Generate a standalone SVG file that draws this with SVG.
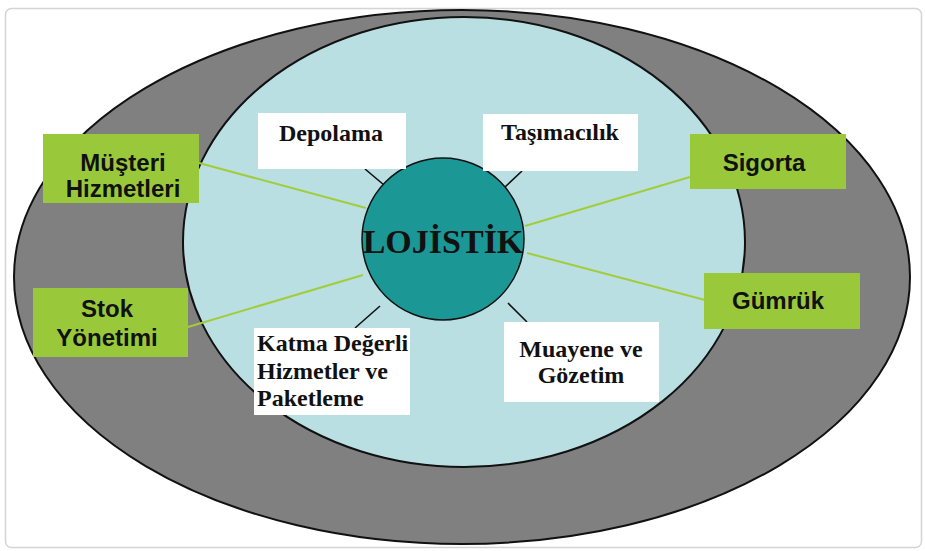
<svg xmlns="http://www.w3.org/2000/svg" width="925" height="551" viewBox="0 0 925 551">
<style>
.wbox{fill:#ffffff;stroke:none}
.gbox{fill:#99c93b;stroke:none}
.st{font-family:"Liberation Serif","Times New Roman",serif;font-weight:bold;font-size:24px;fill:#111}
.ss{font-family:"Liberation Sans",Arial,sans-serif;font-weight:bold;font-size:24px;fill:#111}
.gl{stroke:#a2cc3a;stroke-width:2;fill:none}
.bl{stroke:#111;stroke-width:1.6;fill:none}
</style>
<rect x="0" y="0" width="925" height="551" fill="#ffffff"/>
<rect x="5.5" y="8.5" width="916" height="539" rx="6" fill="#ffffff" stroke="#d4d4d4" stroke-width="1.5"/>
<g id="outer">
<ellipse cx="462" cy="277" rx="448" ry="267" fill="#808080" stroke="#111" stroke-width="2"/>
</g>
<g id="inner">
<ellipse cx="464" cy="242" rx="281" ry="225" fill="#b9dfe3" stroke="#111" stroke-width="2"/>
</g>
<g id="connectors">
<line class="gl" x1="199" y1="163" x2="366" y2="208"/>
<line class="gl" x1="690" y1="177" x2="525" y2="226"/>
<line class="gl" x1="188" y1="327" x2="363" y2="275"/>
<line class="gl" x1="527" y1="253" x2="705" y2="300"/>
<line class="bl" x1="365" y1="169" x2="384" y2="185"/>
<line class="bl" x1="522" y1="171" x2="505" y2="187"/>
<line class="bl" x1="380" y1="306" x2="355" y2="328"/>
<line class="bl" x1="508" y1="303" x2="527" y2="322"/>
</g>
<g id="lojistik">
<circle cx="443" cy="239" r="81" fill="#1b9895" stroke="#111" stroke-width="1.5"/>
<text x="443" y="253" text-anchor="middle" font-family="'Liberation Serif','Times New Roman',serif" font-weight="bold" font-size="34" fill="#111">LOJİSTİK</text>
</g>
<g id="depolama">
<rect class="wbox" x="258" y="113" width="148" height="56"/>
<text class="st" x="331" y="141" text-anchor="middle">Depolama</text>
</g>
<g id="tasimacilik">
<rect class="wbox" x="483" y="114" width="155" height="57"/>
<text class="st" x="560" y="140" text-anchor="middle">Taşımacılık</text>
</g>
<g id="katma">
<rect class="wbox" x="254" y="328" width="156" height="87"/>
<text class="st" x="257" y="351">Katma Değerli</text>
<text class="st" x="257" y="379">Hizmetler ve</text>
<text class="st" x="257" y="406">Paketleme</text>
</g>
<g id="muayene">
<rect class="wbox" x="504" y="322" width="155" height="80"/>
<text class="st" x="581" y="357" text-anchor="middle">Muayene ve</text>
<text class="st" x="581" y="383" text-anchor="middle">Gözetim</text>
</g>
<g id="musteri">
<rect class="gbox" x="43" y="134" width="156" height="69"/>
<text class="ss" x="123" y="171" text-anchor="middle">Müşteri</text>
<text class="ss" x="123" y="197" text-anchor="middle">Hizmetleri</text>
</g>
<g id="sigorta">
<rect class="gbox" x="690" y="134" width="156" height="55"/>
<text class="ss" x="764" y="171" text-anchor="middle">Sigorta</text>
</g>
<g id="stok">
<rect class="gbox" x="33" y="288" width="155" height="69"/>
<text class="ss" x="107" y="317" text-anchor="middle">Stok</text>
<text class="ss" x="107" y="346" text-anchor="middle">Yönetimi</text>
</g>
<g id="gumruk">
<rect class="gbox" x="704" y="273" width="156" height="56"/>
<text class="ss" x="778" y="309" text-anchor="middle">Gümrük</text>
</g>
</svg>
